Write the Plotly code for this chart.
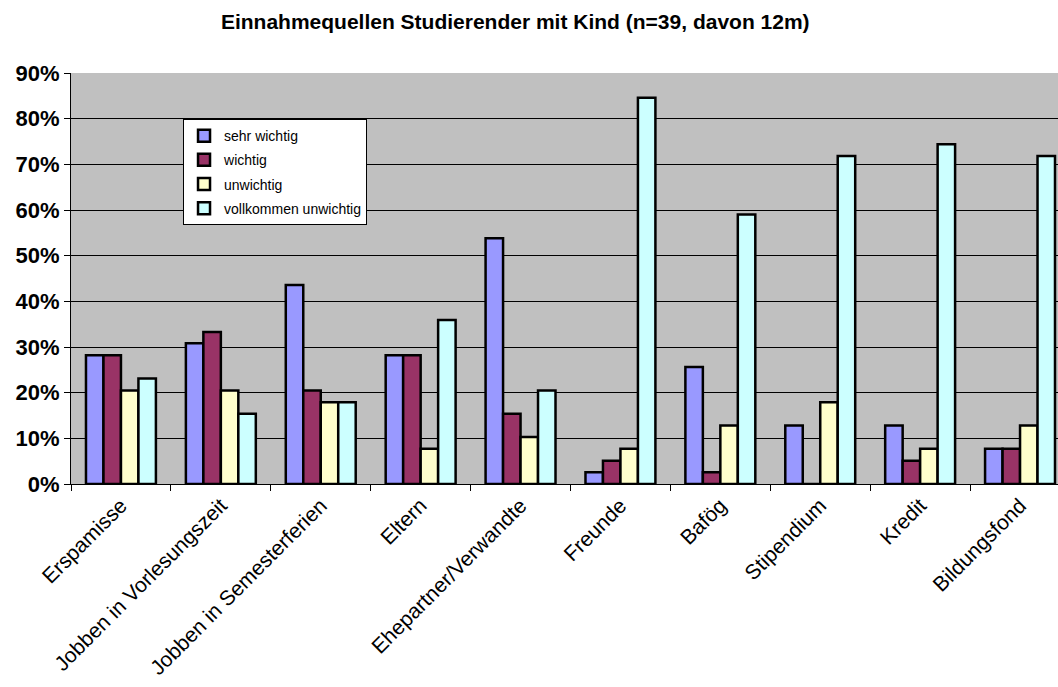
import plotly.graph_objects as go

# Income sources of students with children (shares per importance level)
categories = ["Erspamisse", "Jobben in Vorlesungszeit", "Jobben in Semesterferien",
              "Eltern", "Ehepartner/Verwandte", "Freunde", "Bafög", "Stipendium",
              "Kredit", "Bildungsfond"]

sehr_wichtig = [0.282, 0.308, 0.436, 0.282, 0.538, 0.026, 0.256, 0.128, 0.128, 0.077]
wichtig = [0.282, 0.333, 0.205, 0.282, 0.154, 0.051, 0.026, 0.0, 0.051, 0.077]
unwichtig = [0.205, 0.205, 0.179, 0.077, 0.103, 0.077, 0.128, 0.179, 0.077, 0.128]
vollkommen_unwichtig = [0.231, 0.154, 0.179, 0.359, 0.205, 0.846, 0.590, 0.718, 0.744, 0.718]

series = [
    ("sehr wichtig", sehr_wichtig, "#9999FF"),
    ("wichtig", wichtig, "#993366"),
    ("unwichtig", unwichtig, "#FFFFCC"),
    ("vollkommen unwichtig", vollkommen_unwichtig, "#CCFFFF"),
]

y_ticks = [i / 10 for i in range(10)]

fig = go.Figure()
for name, vals, color in series:
    fig.add_trace(go.Bar(
        x=categories, y=vals, name=name, legendgroup=name,
        marker=dict(color=color, line=dict(color="black", width=2.5)),
    ))

font_family = "Liberation Sans, Arial, sans-serif"

fig.update_layout(
    width=1058, height=687,
    margin=dict(l=71, r=0, t=73, b=203),
    paper_bgcolor="white",
    plot_bgcolor="#C0C0C0",
    barmode="group", bargap=0.3, bargroupgap=0,
    font=dict(family=font_family, color="black"),
    title=dict(
        text="Einnahmequellen Studierender mit Kind (n=39, davon 12m)",
        x=0.487, xanchor="center", y=0.968, yanchor="middle",
        font=dict(size=21, family=font_family, color="black", weight="bold"),
    ),
    legend=dict(
        x=0.1135, y=0.888, xanchor="left", yanchor="top",
        bgcolor="white", bordercolor="black", borderwidth=1,
        font=dict(size=14, family=font_family),
        traceorder="grouped", tracegroupgap=3,
    ),
    showlegend=True,
)

fig.update_xaxes(
    type="category", range=[-0.5, 9.38], automargin=False,
    tickangle=-45, tickfont=dict(size=21, family=font_family),
    ticks="outside", tickson="boundaries", ticklen=6, tickcolor="black",
    showline=True, linecolor="black", linewidth=1, showgrid=False,
)

fig.update_yaxes(
    range=[0, 0.9], tickvals=y_ticks, tickformat=".0%", automargin=False,
    tickfont=dict(size=22, family=font_family, weight="bold"),
    ticks="outside", ticklen=6, tickcolor="black",
    showline=True, linecolor="black", linewidth=1,
    showgrid=True, gridcolor="black", gridwidth=1,
    zeroline=False,
)

fig.write_html("out.html")
